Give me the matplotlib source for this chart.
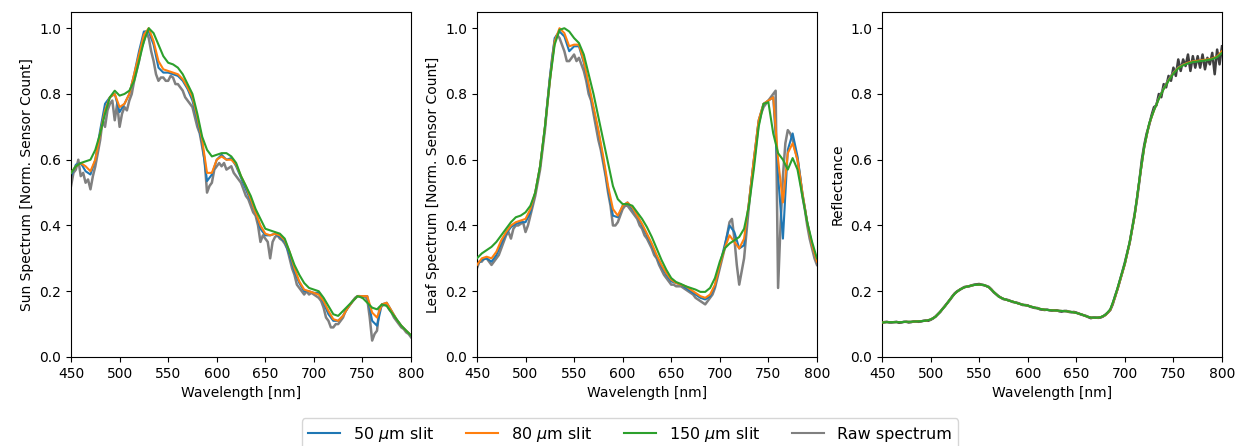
import numpy as np
import matplotlib
matplotlib.use("Agg")
import matplotlib.pyplot as plt

wavelength = np.arange(450, 801, 5)
wavelength_raw = np.arange(450, 800.1, 2.5)

# ---- Panel 1: Sun spectrum ----
sun_50 = [0.55, 0.585, 0.59, 0.565, 0.555, 0.60, 0.69, 0.77, 0.79, 0.80,
          0.745, 0.77, 0.80, 0.86, 0.93, 0.99, 0.99, 0.95, 0.88, 0.865,
          0.865, 0.86, 0.855, 0.84, 0.815, 0.78, 0.72, 0.65, 0.535, 0.555,
          0.60, 0.615, 0.60, 0.605, 0.58, 0.545, 0.51, 0.475, 0.44, 0.39,
          0.37, 0.37, 0.375, 0.365, 0.35, 0.31, 0.26, 0.225, 0.20, 0.20,
          0.195, 0.195, 0.165, 0.13, 0.11, 0.11, 0.125, 0.15, 0.17, 0.185,
          0.185, 0.185, 0.11, 0.095, 0.16, 0.165, 0.14, 0.115, 0.095, 0.08,
          0.065]
sun_80 = [0.56, 0.58, 0.59, 0.58, 0.565, 0.60, 0.68, 0.75, 0.79, 0.80,
          0.76, 0.77, 0.80, 0.86, 0.92, 0.98, 1.00, 0.96, 0.90, 0.875,
          0.87, 0.865, 0.86, 0.845, 0.82, 0.79, 0.73, 0.66, 0.56, 0.56,
          0.60, 0.61, 0.60, 0.60, 0.585, 0.55, 0.52, 0.48, 0.44, 0.40,
          0.375, 0.37, 0.375, 0.37, 0.355, 0.32, 0.27, 0.23, 0.205, 0.20,
          0.195, 0.19, 0.17, 0.14, 0.115, 0.11, 0.125, 0.15, 0.17, 0.185,
          0.185, 0.185, 0.135, 0.12, 0.16, 0.165, 0.14, 0.115, 0.095, 0.08,
          0.066]
sun_150 = [0.56, 0.58, 0.59, 0.595, 0.60, 0.63, 0.68, 0.74, 0.79, 0.81,
           0.795, 0.80, 0.81, 0.84, 0.90, 0.96, 1.00, 0.985, 0.95, 0.915,
           0.895, 0.89, 0.88, 0.86, 0.83, 0.80, 0.74, 0.67, 0.63, 0.61,
           0.615, 0.62, 0.62, 0.61, 0.59, 0.55, 0.52, 0.49, 0.45, 0.42,
           0.39, 0.385, 0.38, 0.375, 0.36, 0.32, 0.28, 0.25, 0.225, 0.21,
           0.205, 0.20, 0.18, 0.155, 0.13, 0.125, 0.14, 0.155, 0.17, 0.185,
           0.18, 0.165, 0.15, 0.145, 0.16, 0.155, 0.135, 0.115, 0.095, 0.08,
           0.066]
sun_raw = [0.52, 0.56, 0.57, 0.60, 0.55, 0.56, 0.53, 0.54, 0.51, 0.55,
           0.58, 0.62, 0.66, 0.72, 0.70, 0.75, 0.77, 0.78, 0.72, 0.77,
           0.70, 0.74, 0.76, 0.75, 0.78, 0.80, 0.84, 0.87, 0.90, 0.94,
           0.96, 0.99, 0.97, 0.93, 0.90, 0.86, 0.84, 0.85, 0.85, 0.84,
           0.84, 0.855, 0.85, 0.83, 0.83, 0.82, 0.81, 0.79, 0.78, 0.77,
           0.76, 0.73, 0.70, 0.68, 0.64, 0.60, 0.50, 0.52, 0.53, 0.57,
           0.58, 0.59, 0.58, 0.59, 0.57, 0.575, 0.58, 0.56, 0.55, 0.54,
           0.53, 0.51, 0.49, 0.48, 0.46, 0.44, 0.43, 0.40, 0.35, 0.37,
           0.36, 0.35, 0.30, 0.35, 0.365, 0.37, 0.36, 0.355, 0.345, 0.33,
           0.30, 0.27, 0.25, 0.22, 0.21, 0.20, 0.19, 0.20, 0.19, 0.195,
           0.19, 0.185, 0.18, 0.17, 0.15, 0.12, 0.11, 0.09, 0.09, 0.10,
           0.10, 0.11, 0.12, 0.14, 0.15, 0.16, 0.17, 0.18, 0.185, 0.185,
           0.18, 0.185, 0.175, 0.12, 0.05, 0.07, 0.08, 0.15, 0.155, 0.16,
           0.16, 0.145, 0.135, 0.12, 0.11, 0.10, 0.09, 0.085, 0.075, 0.07,
           0.06]

# ---- Panel 2: Leaf spectrum ----
leaf_50 = [0.28, 0.295, 0.30, 0.29, 0.31, 0.345, 0.375, 0.395, 0.405, 0.41,
           0.41, 0.44, 0.50, 0.58, 0.70, 0.85, 0.97, 0.99, 0.975, 0.93,
           0.945, 0.945, 0.895, 0.82, 0.755, 0.685, 0.60, 0.51, 0.43, 0.425,
           0.46, 0.47, 0.45, 0.43, 0.40, 0.37, 0.34, 0.305, 0.275, 0.25,
           0.23, 0.225, 0.22, 0.21, 0.20, 0.19, 0.18, 0.175, 0.185, 0.215,
           0.28, 0.34, 0.40, 0.38, 0.33, 0.34, 0.47, 0.60, 0.72, 0.77,
           0.78, 0.79, 0.55, 0.36, 0.63, 0.68, 0.61, 0.50, 0.41, 0.34,
           0.29]
leaf_80 = [0.28, 0.30, 0.305, 0.30, 0.32, 0.355, 0.38, 0.40, 0.41, 0.415,
           0.42, 0.45, 0.50, 0.58, 0.70, 0.84, 0.96, 1.00, 0.985, 0.945,
           0.95, 0.95, 0.90, 0.83, 0.76, 0.69, 0.61, 0.52, 0.45, 0.43,
           0.46, 0.47, 0.455, 0.43, 0.405, 0.375, 0.345, 0.31, 0.28, 0.255,
           0.235, 0.225, 0.22, 0.215, 0.205, 0.195, 0.185, 0.18, 0.19, 0.22,
           0.28, 0.33, 0.37, 0.35, 0.33, 0.36, 0.47, 0.60, 0.72, 0.77,
           0.78, 0.79, 0.60, 0.47, 0.62, 0.65, 0.60, 0.50, 0.41, 0.34,
           0.29]
leaf_150 = [0.30, 0.315, 0.325, 0.335, 0.35, 0.37, 0.39, 0.41, 0.425, 0.43,
            0.44, 0.46, 0.50, 0.58, 0.70, 0.84, 0.95, 0.995, 1.00, 0.99,
            0.97, 0.955, 0.92, 0.86, 0.80, 0.73, 0.66, 0.59, 0.52, 0.48,
            0.465, 0.465, 0.46, 0.44, 0.42, 0.395, 0.365, 0.33, 0.295, 0.265,
            0.24, 0.228, 0.222, 0.215, 0.21, 0.205, 0.198, 0.198, 0.21, 0.24,
            0.29, 0.33, 0.345, 0.355, 0.365, 0.39, 0.46, 0.57, 0.70, 0.77,
            0.775, 0.68, 0.62, 0.60, 0.57, 0.605, 0.57, 0.49, 0.41, 0.35,
            0.30]
leaf_raw = [0.27, 0.29, 0.29, 0.30, 0.30, 0.29, 0.28, 0.29, 0.30, 0.31,
            0.33, 0.35, 0.37, 0.38, 0.36, 0.39, 0.40, 0.40, 0.405, 0.41,
            0.38, 0.40, 0.43, 0.46, 0.49, 0.53, 0.57, 0.63, 0.69, 0.77,
            0.84, 0.91, 0.96, 0.98, 0.97, 0.95, 0.93, 0.90, 0.90, 0.91,
            0.92, 0.90, 0.91, 0.89, 0.87, 0.84, 0.80, 0.78, 0.74, 0.70,
            0.66, 0.63, 0.59, 0.55, 0.50, 0.46, 0.40, 0.40, 0.41, 0.43,
            0.45, 0.46, 0.46, 0.45, 0.44, 0.43, 0.42, 0.40, 0.39, 0.37,
            0.36, 0.345, 0.33, 0.31, 0.30, 0.28, 0.265, 0.25, 0.24, 0.23,
            0.22, 0.22, 0.215, 0.215, 0.215, 0.21, 0.205, 0.20, 0.195, 0.19,
            0.18, 0.175, 0.17, 0.165, 0.16, 0.17, 0.18, 0.19, 0.21, 0.24,
            0.27, 0.30, 0.33, 0.37, 0.41, 0.42, 0.36, 0.28, 0.22, 0.26,
            0.30, 0.38, 0.46, 0.53, 0.59, 0.65, 0.71, 0.74, 0.76, 0.77,
            0.78, 0.79, 0.80, 0.81, 0.21, 0.40, 0.55, 0.65, 0.69, 0.68,
            0.66, 0.63, 0.60, 0.55, 0.49, 0.45, 0.40, 0.36, 0.33, 0.30,
            0.28]

# ---- Panel 3: Reflectance ----
refl_150 = [0.105, 0.106, 0.106, 0.106, 0.106, 0.107, 0.107, 0.108, 0.109, 0.110,
            0.114, 0.122, 0.138, 0.155, 0.175, 0.193, 0.205, 0.212, 0.216, 0.219,
            0.220, 0.219, 0.212, 0.198, 0.184, 0.177, 0.172, 0.168, 0.163, 0.159,
            0.156, 0.152, 0.148, 0.145, 0.143, 0.142, 0.141, 0.140, 0.139, 0.137,
            0.134, 0.130, 0.124, 0.120, 0.119, 0.121, 0.128, 0.145, 0.185, 0.235,
            0.285, 0.350, 0.430, 0.540, 0.640, 0.710, 0.750, 0.785, 0.815, 0.840,
            0.862, 0.878, 0.887, 0.893, 0.897, 0.899, 0.901, 0.903, 0.906, 0.912,
            0.925]
refl_80 = [0.105, 0.106, 0.106, 0.106, 0.106, 0.107, 0.107, 0.108, 0.109, 0.110,
           0.114, 0.122, 0.138, 0.155, 0.175, 0.193, 0.205, 0.212, 0.216, 0.219,
           0.220, 0.219, 0.212, 0.198, 0.184, 0.177, 0.172, 0.168, 0.163, 0.159,
           0.156, 0.152, 0.148, 0.145, 0.143, 0.142, 0.141, 0.140, 0.139, 0.137,
           0.134, 0.130, 0.124, 0.120, 0.119, 0.121, 0.127, 0.143, 0.182, 0.232,
           0.282, 0.348, 0.428, 0.538, 0.638, 0.708, 0.750, 0.786, 0.816, 0.842,
           0.864, 0.880, 0.889, 0.895, 0.899, 0.901, 0.903, 0.905, 0.908, 0.914,
           0.930]
refl_50 = [0.105, 0.106, 0.106, 0.106, 0.106, 0.107, 0.107, 0.108, 0.109, 0.110,
           0.114, 0.122, 0.138, 0.155, 0.175, 0.193, 0.205, 0.212, 0.216, 0.219,
           0.220, 0.219, 0.212, 0.198, 0.184, 0.177, 0.172, 0.168, 0.163, 0.159,
           0.156, 0.152, 0.148, 0.145, 0.143, 0.142, 0.141, 0.140, 0.139, 0.137,
           0.134, 0.130, 0.124, 0.120, 0.119, 0.121, 0.127, 0.143, 0.182, 0.232,
           0.282, 0.348, 0.428, 0.538, 0.638, 0.708, 0.752, 0.788, 0.818, 0.844,
           0.866, 0.881, 0.890, 0.894, 0.898, 0.900, 0.902, 0.904, 0.907, 0.913,
           0.928]
refl_raw = [0.104, 0.106, 0.107, 0.105, 0.105, 0.106, 0.107, 0.104, 0.105, 0.107,
            0.107, 0.105, 0.106, 0.108, 0.108, 0.107, 0.108, 0.110, 0.111, 0.110,
            0.113, 0.117, 0.123, 0.130, 0.137, 0.147, 0.156, 0.165, 0.174, 0.185,
            0.194, 0.200, 0.204, 0.209, 0.213, 0.214, 0.215, 0.218, 0.220, 0.221,
            0.222, 0.220, 0.218, 0.216, 0.213, 0.206, 0.197, 0.191, 0.185, 0.180,
            0.176, 0.175, 0.173, 0.170, 0.167, 0.166, 0.164, 0.161, 0.158, 0.158,
            0.157, 0.153, 0.151, 0.149, 0.149, 0.145, 0.144, 0.143, 0.144, 0.142,
            0.141, 0.142, 0.142, 0.139, 0.138, 0.140, 0.140, 0.137, 0.136, 0.137,
            0.135, 0.132, 0.129, 0.127, 0.125, 0.121, 0.118, 0.120, 0.120, 0.119,
            0.120, 0.123, 0.129, 0.135, 0.143, 0.160, 0.186, 0.207, 0.233, 0.260,
            0.287, 0.318, 0.348, 0.390, 0.433, 0.480, 0.536, 0.600, 0.645, 0.680,
            0.705, 0.735, 0.760, 0.765, 0.800, 0.790, 0.830, 0.820, 0.855, 0.840,
            0.880, 0.855, 0.905, 0.870, 0.905, 0.885, 0.920, 0.870, 0.915, 0.880,
            0.915, 0.880, 0.920, 0.875, 0.910, 0.890, 0.925, 0.860, 0.935, 0.890,
            0.945]

labels = ["50 $\\mu$m slit", "80 $\\mu$m slit", "150 $\\mu$m slit", "Raw spectrum"]
colors = ["#1f77b4", "#ff7f0e", "#2ca02c"]
ylabels = ["Sun Spectrum [Norm. Sensor Count]",
           "Leaf Spectrum [Norm. Sensor Count]",
           "Reflectance"]
panels = [
    (sun_50, sun_80, sun_150, sun_raw, "#808080"),
    (leaf_50, leaf_80, leaf_150, leaf_raw, "#808080"),
    (refl_50, refl_80, refl_150, refl_raw, "#3f3f3f"),
]

fig = plt.figure(figsize=(12.44, 4.46), dpi=100)
lefts = [0.0571, 0.3834, 0.709]
for i, (s50, s80, s150, sraw, rawc) in enumerate(panels):
    ax = fig.add_axes([lefts[i], 0.1996, 0.2733, 0.774])
    ax.plot(wavelength_raw, sraw, color=rawc, lw=1.8, zorder=1)
    ax.plot(wavelength, s50, color=colors[0], lw=1.5, zorder=2)
    ax.plot(wavelength, s80, color=colors[1], lw=1.5, zorder=3)
    ax.plot(wavelength, s150, color=colors[2], lw=1.5, zorder=4)
    ax.set_xlim(450, 800)
    ax.set_ylim(0, 1.05)
    ax.set_xticks([450, 500, 550, 600, 650, 700, 750, 800])
    ax.set_yticks([0.0, 0.2, 0.4, 0.6, 0.8, 1.0])
    ax.set_xlabel("Wavelength [nm]")
    ax.set_ylabel(ylabels[i])

leg_handles = [plt.Line2D([], [], color=c, lw=1.5) for c in colors] + \
              [plt.Line2D([], [], color="#808080", lw=1.5)]
fig.legend(leg_handles, labels, loc="upper center", ncol=4,
           bbox_to_anchor=(0.5065, 0.080), frameon=True, fontsize=11.5)

fig.savefig("out.png", dpi=100)
